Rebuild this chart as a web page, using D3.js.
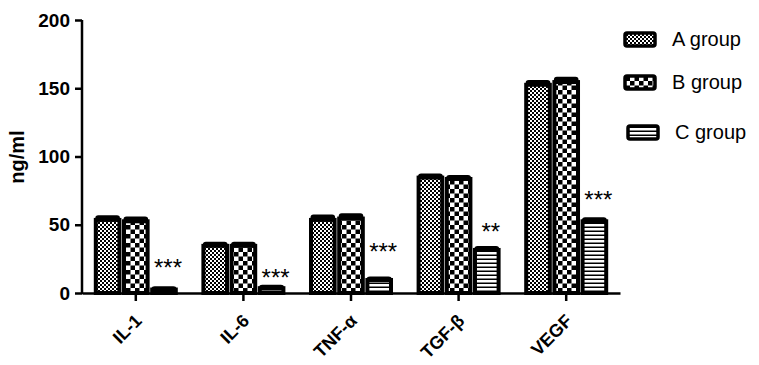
<!DOCTYPE html>
<html>
<head>
<meta charset="utf-8">
<script src="https://cdn.jsdelivr.net/npm/d3@7"></script>
<style>
  body { margin: 0; background: #fff; }
  text { font-family: "Liberation Sans", Arial, sans-serif; }
</style>
</head>
<body>
<div id="chart"></div>
<script>
// data
var categories = ["IL-1", "IL-6", "TNF-\u03b1", "TGF-\u03b2", "VEGF"];
var groups = ["A group", "B group", "C group"];
var aValues = [55, 36, 55, 86, 154];
var bValues = [54, 36, 56, 85, 156];
var cValues = [4, 5, 11, 33, 54];
var aErrors = [2, 1.5, 2.5, 1.5, 2];
var bErrors = [2, 1.5, 2.5, 1.5, 2.5];
var cErrors = [1, 1, 1, 1.5, 1.5];
var stars = ["***", "***", "***", "**", "***"];
var starLevels = [22, 15, 34, 48, 72];   // y (in ng/ml) where the asterisks sit
var yTicks = [0, 50, 100, 150, 200];

var width = 759, height = 365;
var svg = d3.select("#chart").append("svg")
    .attr("width", width)
    .attr("height", height);

// fill patterns
var defs = svg.append("defs");
var pa = defs.append("pattern").attr("id", "patA")
    .attr("patternUnits", "userSpaceOnUse").attr("width", 4).attr("height", 4);
pa.append("rect").attr("width", 4).attr("height", 4).attr("fill", "#fff");
pa.append("rect").attr("width", 2).attr("height", 2).attr("fill", "#000");
pa.append("rect").attr("x", 2).attr("y", 2).attr("width", 2).attr("height", 2).attr("fill", "#000");

var pb = defs.append("pattern").attr("id", "patB")
    .attr("patternUnits", "userSpaceOnUse").attr("width", 9).attr("height", 9);
pb.append("rect").attr("width", 9).attr("height", 9).attr("fill", "#fff");
pb.append("rect").attr("width", 4.5).attr("height", 4.5).attr("fill", "#000");
pb.append("rect").attr("x", 4.5).attr("y", 4.5).attr("width", 4.5).attr("height", 4.5).attr("fill", "#000");

var pc = defs.append("pattern").attr("id", "patC")
    .attr("patternUnits", "userSpaceOnUse").attr("width", 4).attr("height", 4);
pc.append("rect").attr("width", 4).attr("height", 4).attr("fill", "#fff");
pc.append("rect").attr("y", 2.5).attr("width", 4).attr("height", 1.5).attr("fill", "#000");

var fills = ["url(#patA)", "url(#patB)", "url(#patC)"];
var series = [aValues, bValues, cValues];
var errs = [aErrors, bErrors, cErrors];

var y = d3.scaleLinear().domain([0, 200]).range([293, 20]);
var x0 = d3.scaleBand().domain(categories).range([82, 620]).paddingInner(0).paddingOuter(0);
var groupW = 84;
var x1 = d3.scaleBand().domain(groups).range([0, groupW]).paddingInner(0.02);

// bars
categories.forEach(function (cat, i) {
    var gx = x0(cat) + (x0.bandwidth() - groupW) / 2;
    groups.forEach(function (g, j) {
        var v = series[j][i], e = errs[j][i];
        var bx = gx + x1(g);
        var bw = x1.bandwidth();
        svg.append("rect")
            .attr("x", bx + 2).attr("y", y(v) + 2)
            .attr("width", bw - 4).attr("height", y(0) - y(v) - 2)
            .attr("fill", fills[j])
            .attr("stroke", "#000").attr("stroke-width", 4);
        // error cap
        svg.append("rect")
            .attr("x", bx + 1.5).attr("y", y(v + e))
            .attr("width", bw - 3).attr("height", y(v) - y(v + e) + 3)
            .attr("rx", 3)
            .attr("fill", "#000");
    });
    // significance stars
    var cx = gx + x1("C group") + x1.bandwidth() / 2 + 4;
    svg.append("text")
        .attr("x", cx).attr("y", y(starLevels[i]) + 13)
        .attr("text-anchor", "middle")
        .attr("font-size", 24)
        .attr("fill", "#000")
        .text(stars[i]);
});

// y axis
var yAxis = svg.append("g")
    .attr("transform", "translate(82,0)")
    .call(d3.axisLeft(y).tickValues(yTicks).tickSize(7).tickPadding(5));
yAxis.select(".domain").attr("stroke-width", 2.5).attr("d", "M0,20V294");
yAxis.selectAll(".tick line").attr("stroke-width", 2.5);
yAxis.selectAll(".tick text")
    .attr("font-size", 19).attr("font-weight", "bold")
    .attr("font-family", "Liberation Sans, Arial, sans-serif");

// x axis
var xAxis = svg.append("g")
    .attr("transform", "translate(0,293)")
    .call(d3.axisBottom(x0).tickSize(8).tickSizeOuter(0));
xAxis.select(".domain").attr("stroke-width", 2.5);
xAxis.selectAll(".tick line").attr("stroke-width", 2.5);
xAxis.selectAll(".tick text")
    .attr("font-size", 18).attr("font-weight", "bold")
    .attr("font-family", "Liberation Sans, Arial, sans-serif")
    .attr("text-anchor", "end")
    .attr("dy", null)
    .attr("y", null)
    .attr("transform", "translate(7,29) rotate(-45)");

// y label
svg.append("text")
    .attr("transform", "translate(24,157) rotate(-90)")
    .attr("text-anchor", "middle")
    .attr("font-size", 20).attr("font-weight", "bold")
    .text("ng/ml");

// legend
var legendY = [39, 82, 132];
var legendX = [625, 625, 628];
groups.forEach(function (g, j) {
    svg.append("rect")
        .attr("x", legendX[j]).attr("y", legendY[j] - 6)
        .attr("width", 30).attr("height", 13)
        .attr("rx", 2)
        .attr("fill", fills[j])
        .attr("stroke", "#000").attr("stroke-width", 3.5);
    svg.append("text")
        .attr("x", 672 + (j == 2 ? 3 : 0)).attr("y", legendY[j] + 7)
        .attr("font-size", 20)
        .text(g);
});
</script>
</body>
</html>
